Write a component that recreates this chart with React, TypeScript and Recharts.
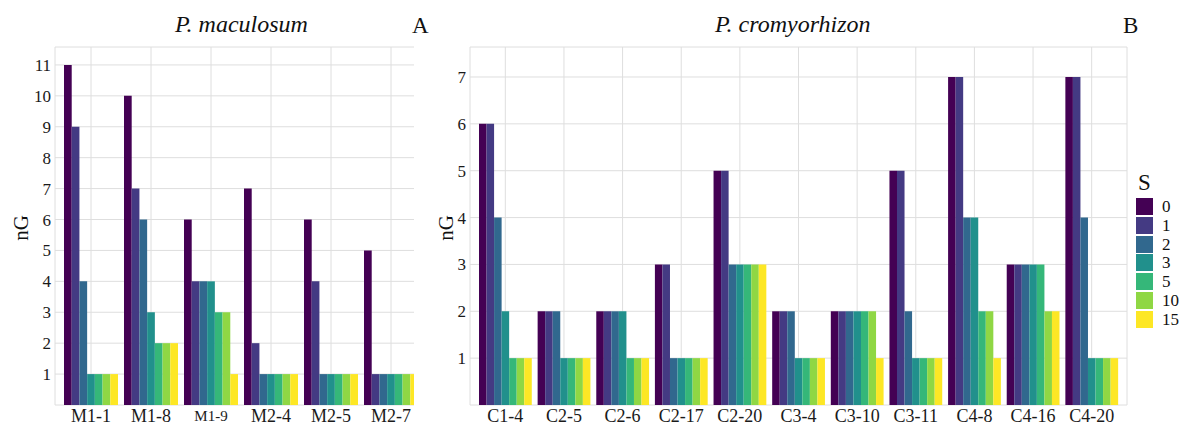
import { Bar, BarChart, CartesianGrid, XAxis, YAxis } from "recharts"

const seriesKeys = ["s0", "s1", "s2", "s3", "s5", "s10", "s15"]
const seriesLabels = ["0", "1", "2", "3", "5", "10", "15"]
const seriesColors = ["#440154", "#443A83", "#31688E", "#21908C", "#35B779", "#8FD744", "#FDE725"]

// P. maculosum
const maculosumLines = ["M1-1", "M1-8", "M1-9", "M2-4", "M2-5", "M2-7"]
const macS0 = [11, 10, 6, 7, 6, 5]
const macS1 = [9, 7, 4, 2, 4, 1]
const macS2 = [4, 6, 4, 1, 1, 1]
const macS3 = [1, 3, 4, 1, 1, 1]
const macS5 = [1, 2, 3, 1, 1, 1]
const macS10 = [1, 2, 3, 1, 1, 1]
const macS15 = [1, 2, 1, 1, 1, 1]
const macTicks = [1, 2, 3, 4, 5, 6, 7, 8, 9, 10, 11]

// P. cromyorhizon
const cromyLines = ["C1-4", "C2-5", "C2-6", "C2-17", "C2-20", "C3-4", "C3-10", "C3-11", "C4-8", "C4-16", "C4-20"]
const croS0 = [6, 2, 2, 3, 5, 2, 2, 5, 7, 3, 7]
const croS1 = [6, 2, 2, 3, 5, 2, 2, 5, 7, 3, 7]
const croS2 = [4, 2, 2, 1, 3, 2, 2, 2, 4, 3, 4]
const croS3 = [2, 1, 2, 1, 3, 1, 2, 1, 4, 3, 1]
const croS5 = [1, 1, 1, 1, 3, 1, 2, 1, 2, 3, 1]
const croS10 = [1, 1, 1, 1, 3, 1, 2, 1, 2, 2, 1]
const croS15 = [1, 1, 1, 1, 3, 1, 1, 1, 1, 2, 1]
const croTicks = [1, 2, 3, 4, 5, 6, 7]

const FONT = "'Liberation Serif', 'DejaVu Serif', serif"
const GRID = "#dedede"

function buildRows(names: string[], series: number[][]) {
    return names.map((name, i) => {
        const row: Record<string, string | number> = { name }
        seriesKeys.forEach((k, j) => {
            row[k] = series[j][i]
        })
        return row
    })
}

const macRows = buildRows(maculosumLines, [macS0, macS1, macS2, macS3, macS5, macS10, macS15])
const croRows = buildRows(cromyLines, [croS0, croS1, croS2, croS3, croS5, croS10, croS15])

function CategoryTick(props: any) {
    const { x, y, payload } = props
    const small = payload.value === "M1-9"
    return (
        <text x={x} y={y} dy={small ? 14 : 15} textAnchor="middle" fontFamily={FONT} fontSize={small ? 15 : 18} fill="#1a1a1a">
            {payload.value}
        </text>
    )
}

interface PanelProps {
    rows: Record<string, string | number>[]
    ticks: number[]
    yMax: number
    width: number
    marginLeft: number
    yAxisWidth: number
    barSize: number
}

function Panel({ rows, ticks, yMax, width, marginLeft, yAxisWidth, barSize }: PanelProps) {
    return (
        <BarChart
            width={width}
            height={425}
            data={rows}
            margin={{ top: 47, right: 3, bottom: 0, left: marginLeft }}
            barCategoryGap="5%"
            barGap={0}
        >
            <CartesianGrid stroke={GRID} strokeWidth={1} />
            <XAxis
                dataKey="name"
                interval={0}
                axisLine={false}
                tickLine={false}
                tickSize={0}
                tickMargin={2}
                height={20}
                padding={{ left: 6, right: 6 }}
                tick={<CategoryTick />}
            />
            <YAxis
                domain={[0, yMax]}
                ticks={ticks}
                allowDataOverflow
                axisLine={false}
                tickLine={false}
                tickSize={0}
                tickMargin={4}
                width={yAxisWidth}
                tick={{ fontFamily: FONT, fontSize: 17, fill: "#1a1a1a" }}
            />
            {seriesKeys.map((k, i) => (
                <Bar key={k} dataKey={k} fill={seriesColors[i]} barSize={barSize} isAnimationActive={false} />
            ))}
        </BarChart>
    )
}

const textBase: React.CSSProperties = { position: "absolute", fontFamily: FONT, color: "#111", whiteSpace: "nowrap", lineHeight: 1 }

export default function App() {
    return (
        <div style={{ position: "absolute", left: 0, top: 0, width: 1179, height: 425, background: "#fff", overflow: "hidden" }}>
            <div style={{ position: "absolute", left: 0, top: 0, width: 414, height: 425, overflow: "hidden" }}>
                <Panel rows={macRows} ticks={macTicks} yMax={11.58} width={430} marginLeft={15} yAxisWidth={40} barSize={60 * 0.9 / 7} />
            </div>
            <div style={{ position: "absolute", left: 440, top: 0 }}>
                <Panel rows={croRows} ticks={croTicks} yMax={7.64} width={690} marginLeft={5} yAxisWidth={25} barSize={58.64 * 0.9 / 7} />
            </div>

            <div style={{ ...textBase, left: 175, top: 12, fontSize: 24, fontStyle: "italic" }}>P. maculosum</div>
            <div style={{ ...textBase, left: 412, top: 14, fontSize: 23 }}>A</div>
            <div style={{ ...textBase, left: 715, top: 12, fontSize: 24, fontStyle: "italic" }}>P. cromyorhizon</div>
            <div style={{ ...textBase, left: 1123, top: 14, fontSize: 23 }}>B</div>

            <div style={{ ...textBase, left: 21, top: 228, fontSize: 21, transform: "translate(-50%, -50%) rotate(-90deg)" }}>nG</div>
            <div style={{ ...textBase, left: 446, top: 228, fontSize: 21, transform: "translate(-50%, -50%) rotate(-90deg)" }}>nG</div>

            <div style={{ ...textBase, left: 1138, top: 171, fontSize: 23 }}>S</div>
            {seriesLabels.map((label, i) => (
                <div key={label} style={{ position: "absolute", left: 1136, top: 198 + i * 18.8, display: "flex", alignItems: "center" }}>
                    <div style={{ width: 17, height: 17, background: seriesColors[i] }} />
                    <span style={{ fontFamily: FONT, fontSize: 17, marginLeft: 9, color: "#111", lineHeight: 1 }}>{label}</span>
                </div>
            ))}
        </div>
    )
}
